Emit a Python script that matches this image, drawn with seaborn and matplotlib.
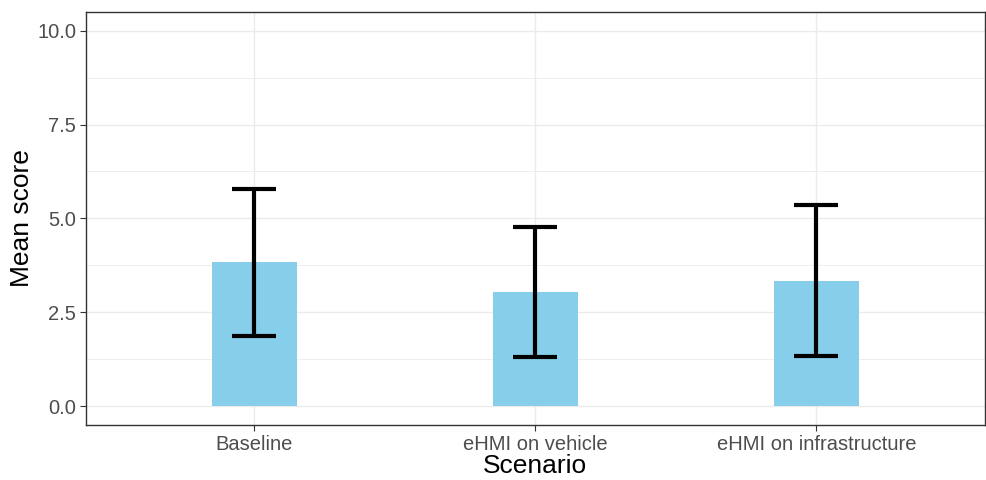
import numpy as np
import pandas as pd
import matplotlib
matplotlib.use("Agg")
import matplotlib.pyplot as plt
import seaborn as sns
from matplotlib.ticker import MultipleLocator, FormatStrFormatter

# data
scenarios = ["Baseline", "eHMI on vehicle", "eHMI on infrastructure"]
mean_score = [3.83, 3.03, 3.34]
sd_score = [1.96, 1.73, 2.01]

df = pd.DataFrame({"Scenario": scenarios, "Mean": mean_score, "SD": sd_score})

sns.set_style("whitegrid")
plt.rcParams["font.family"] = ["Liberation Sans", "DejaVu Sans"]

fig, ax = plt.subplots(figsize=(9.86, 4.8), dpi=100)
fig.subplots_adjust(left=0.087, right=0.999, top=0.975, bottom=0.115)

sns.barplot(data=df, x="Scenario", y="Mean", color="#87CEEB", width=0.3,
            saturation=1, linewidth=0, ax=ax, zorder=2)
ax.errorbar(np.arange(len(df)), df["Mean"], yerr=df["SD"], fmt="none",
            ecolor="black", elinewidth=3, capsize=15.5, capthick=3, zorder=3)

ax.set_xlim(-0.6, 2.6)
ax.set_ylim(-0.5, 10.5)
ax.yaxis.set_major_locator(MultipleLocator(2.5))
ax.yaxis.set_minor_locator(MultipleLocator(1.25))
ax.yaxis.set_major_formatter(FormatStrFormatter("%.1f"))
ax.grid(which="major", color="#EBEBEB", linewidth=1.0)
ax.grid(which="minor", axis="y", color="#EBEBEB", linewidth=0.6)
ax.set_axisbelow(True)

for s in ax.spines.values():
    s.set_color("#333333")
    s.set_linewidth(1.0)

ax.tick_params(axis="both", which="major", labelsize=14.5, labelcolor="#4D4D4D",
               length=4, color="#333333", direction="out", pad=3)
ax.tick_params(axis="both", which="minor", length=0)
ax.tick_params(axis="x", bottom=True)
ax.tick_params(axis="y", left=True)
ax.set_xlabel("Scenario", fontsize=19, color="black", labelpad=0)
ax.set_ylabel("Mean score", fontsize=19, color="black", labelpad=2)

plt.savefig("out.png", dpi=100)
